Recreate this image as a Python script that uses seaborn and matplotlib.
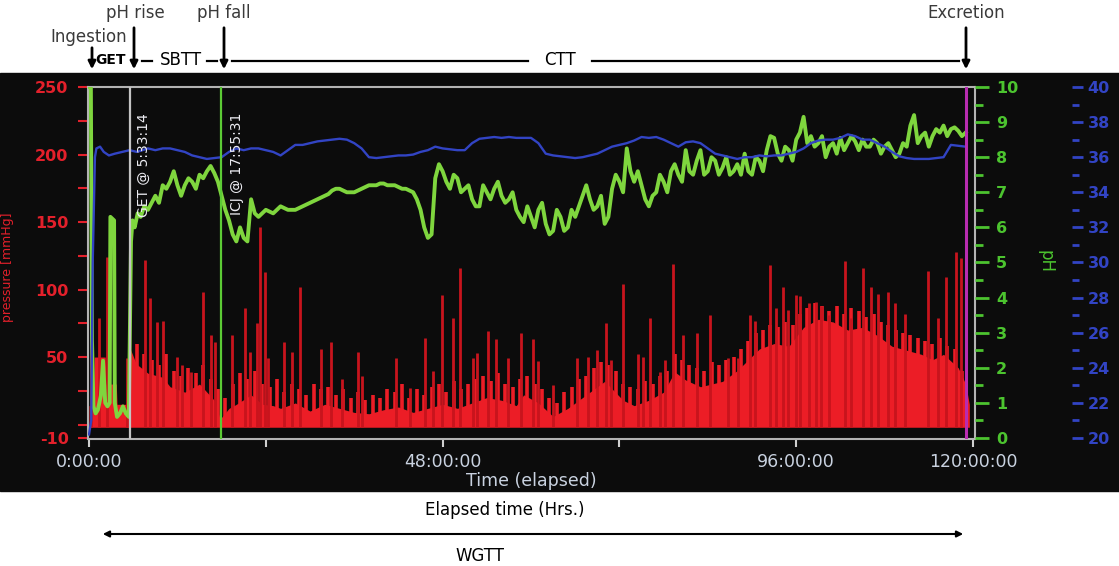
import matplotlib
matplotlib.use("Agg")
import matplotlib.pyplot as plt
import seaborn as sns
from matplotlib.patches import Rectangle, FancyArrowPatch
from matplotlib.lines import Line2D
from matplotlib.ticker import FixedLocator

# ---- data (hours elapsed) ----
# pH, dense part around ingestion / gastric emptying / ICJ
ph_hours_early = [0.0, 0.25, 0.4, 0.6, 0.9, 1.2, 1.6, 1.9, 2.2, 2.5,
                  2.8, 2.9, 3.4, 3.5, 3.8, 4.2, 4.6, 5.0, 5.4, 5.7,
                  5.9, 6.2, 6.6, 7.0, 7.5, 8.0, 8.5, 9.0, 9.5, 10.0,
                  10.5, 11.0, 11.5, 12.0, 12.5, 13.0, 13.5, 14.0, 14.5, 15.0,
                  15.5, 16.0, 16.5, 17.0, 17.5, 18.0, 18.5, 19.0, 19.5, 20.0,
                  20.5, 21.0, 21.5, 22.0, 22.5]
ph_early = [10.0, 10.0, 2.8, 0.9, 0.7, 0.8, 1.2, 2.2, 1.0, 0.9,
            1.0, 6.3, 6.2, 1.0, 0.6, 0.7, 0.9, 0.7, 0.6, 5.6,
            6.2, 6.0, 6.4, 6.3, 6.6, 6.5, 6.7, 6.9, 6.7, 7.2,
            7.1, 7.3, 7.6, 7.2, 6.9, 7.2, 7.4, 7.3, 7.1, 7.5,
            7.4, 7.6, 7.75, 7.55, 7.3, 6.9, 6.5, 6.2, 5.8, 5.6,
            6.0, 5.7, 5.6, 6.8, 6.4]
# pH, hourly from 23 h to 119 h
ph_hours_late = list(range(23, 120))
ph_late = [6.3, 6.5, 6.4, 6.6, 6.5, 6.5, 6.6, 6.7, 6.8, 6.9,
           7.05, 7.1, 7.0, 7.0, 7.1, 7.2, 7.2, 7.25, 7.2, 7.15,
           7.1, 7.0, 6.5, 5.7, 7.4, 7.6, 7.1, 7.4, 7.1, 6.8,
           6.6, 7.0, 7.1, 6.9, 6.8, 6.5, 6.15, 6.3, 6.5, 6.1,
           5.9, 6.3, 6.0, 6.3, 6.9, 6.8, 6.6, 6.1, 7.1, 7.3,
           8.25, 7.3, 7.2, 6.6, 7.0, 7.3, 7.6, 7.5, 8.2, 7.5,
           8.2, 7.6, 7.9, 7.7, 7.5, 7.8, 8.1, 7.5, 7.9, 8.2,
           8.55, 7.9, 8.2, 8.5, 9.15, 8.6, 8.4, 8.0, 8.4, 8.55,
           8.4, 8.45, 8.5, 8.3, 8.4, 8.3, 8.2, 8.1, 8.3, 9.2,
           8.6, 8.3, 8.8, 8.9, 8.8, 8.75, 8.7]
# pH at the half hours in between (the trace is noisy)
ph_hours_half = [h + 0.5 for h in range(23, 119)]
ph_half = [6.4, 6.45, 6.5, 6.55, 6.5, 6.55, 6.65, 6.75, 6.85, 6.95,
           7.1, 7.05, 7.0, 7.05, 7.15, 7.2, 7.25, 7.2, 7.2, 7.1,
           7.05, 6.8, 6.0, 5.8, 7.8, 7.3, 7.5, 7.0, 7.2, 6.6,
           7.2, 6.8, 7.3, 6.7, 7.0, 6.3, 6.6, 6.0, 6.7, 5.8,
           6.5, 5.9, 6.5, 6.6, 7.2, 6.5, 6.9, 6.3, 7.5, 7.0,
           7.6, 7.6, 6.8, 6.9, 7.5, 7.0, 7.8, 7.3, 7.6, 7.9,
           7.5, 8.0, 7.5, 8.0, 7.6, 7.5, 7.6, 8.0, 7.6, 8.6,
           8.1, 8.3, 7.9, 8.7, 8.4, 8.3, 8.6, 8.3, 8.1, 8.2,
           8.6, 8.2, 8.3, 8.5, 8.1, 8.4, 8.0, 8.4, 8.9, 8.4,
           8.7, 8.6, 8.7, 8.6, 8.85, 8.6]

# temperature (deg C)
temp_hours_early = [0, 0.3, 0.5, 0.8, 1.0, 1.5, 2, 2.7, 3.5, 4.5, 5.5, 6.5, 8]
temp_early = [20.2, 21, 30, 36.0, 36.5, 36.6, 36.3, 36.1, 36.2, 36.3, 36.4, 36.3, 36.5]
temp_hours_late = list(range(9, 120))
temp_late = [36.4, 36.5, 36.5, 36.4, 36.3, 36.1, 36.0, 35.9, 35.95, 36.0,
             36.3, 36.5, 36.4, 36.5, 36.5, 36.4, 36.3, 36.1, 36.4, 36.7,
             36.7, 36.8, 36.9, 36.95, 37.0, 37.05, 37.0, 36.8, 36.5, 36.0,
             35.95, 36.0, 36.05, 36.1, 36.1, 36.15, 36.3, 36.4, 36.6, 36.5,
             36.45, 36.4, 36.4, 36.8, 37.05, 37.1, 37.15, 37.1, 37.15, 37.1,
             37.1, 37.1, 36.8, 36.2, 36.1, 36.05, 36.0, 35.95, 36.0, 36.1,
             36.2, 36.4, 36.6, 36.7, 36.8, 36.95, 37.15, 37.1, 37.15, 37.0,
             36.8, 36.6, 36.85, 36.9, 36.8, 36.5, 36.2, 36.1, 36.0, 35.9,
             36.0, 36.0, 36.1, 36.05, 36.1, 36.1, 36.2, 36.3, 36.5, 36.8,
             36.95, 37.0, 37.0, 37.1, 37.3, 37.2, 37.0, 37.0, 36.8, 36.6,
             36.3, 36.05, 35.95, 35.9, 35.9, 35.9, 35.95, 36.0, 36.7, 36.65,
             36.6]

# pressure (mmHg): background level, small contractions and big spikes
base_hours = [0, 0.6, 0.7, 2.2, 2.3, 3.7, 3.8, 5.5, 5.6, 6.4,
              8, 10, 11, 13, 15, 17, 17.8, 19, 20, 22,
              23.5, 25, 26, 28, 30, 32, 34, 36, 38, 40,
              42, 44, 46, 48, 50, 52, 54, 56, 58, 59,
              61, 63, 65, 67, 69, 70, 72.5, 74, 76, 78,
              79.5, 81, 83, 86, 88, 89.5, 91, 93, 95, 97,
              99, 101, 103, 105, 107, 109, 111, 113, 114.5, 116,
              118, 119, 119.5]
base_press = [14, 14, 50, 50, 30, 30, 15, 15, 56, 45,
              38, 35, 28, 24, 30, 18, 4, 12, 15, 22,
              15, 14, 12, 16, 10, 15, 12, 9, 8, 11,
              13, 9, 12, 15, 12, 16, 20, 18, 14, 22,
              16, 6, 12, 20, 28, 32, 18, 14, 18, 24,
              39, 33, 28, 32, 40, 48, 56, 60, 58, 72,
              78, 76, 70, 72, 66, 58, 55, 52, 48, 52,
              42, 30, 15]
minor_hours = [h + 0.5 for h in range(6, 119)]
minor_press = [60, 52, 48, 44, 52, 40, 36, 42, 38, 44,
               34, 26, 20, 30, 38, 34, 40, 30, 28, 34,
               24, 30, 26, 22, 30, 26, 28, 22, 26, 20,
               24, 18, 22, 20, 26, 24, 30, 20, 26, 22,
               28, 30, 24, 32, 26, 30, 34, 36, 32, 38,
               30, 28, 34, 36, 30, 26, 20, 16, 24, 28,
               34, 36, 42, 46, 44, 40, 30, 28, 26, 32,
               30, 36, 40, 52, 48, 44, 42, 40, 46, 44,
               48, 50, 56, 62, 68, 70, 74, 72, 76, 74,
               82, 86, 90, 88, 84, 88, 82, 86, 84, 80,
               82, 76, 74, 70, 68, 66, 64, 62, 60, 64,
               58, 56, 40]
spike_hours = [0.3, 1.3, 2.4, 5.1, 7.6, 8.3, 9.2, 10.1, 11.9, 12.6,
               13.9, 15.5, 16.6, 17.1, 19.4, 21.2, 21.8, 22.8, 23.2, 23.9,
               24.3, 26.4, 27.5, 28.6, 31.5, 32.9, 34.3, 36.5, 37.0, 41.7,
               43.6, 45.6, 46.7, 47.9, 49.4, 50.3, 52.1, 52.6, 54.2, 55.3,
               56.9, 58.7, 60.3, 61.0, 63.0, 66.2, 67.7, 68.9, 70.2, 70.9,
               72.5, 74.5, 75.2, 76.1, 77.5, 78.2, 79.3, 80.6, 82.5, 84.3,
               86.7, 88.1, 89.7, 90.4, 92.4, 93.3, 94.2, 94.9, 96.0, 96.5,
               97.8, 98.7, 99.4, 100.5, 102.6, 103.5, 105.1, 106.2, 107.1, 108.5,
               109.4, 110.7, 113.9, 115.2, 116.4, 117.7, 118.4]
spike_press = [95, 79, 124, 49, 122, 94, 76, 77, 50, 44,
               39, 98, 66, 61, 66, 86, 54, 75, 146, 113,
               49, 61, 54, 102, 56, 61, 34, 54, 36, 49,
               27, 64, 40, 96, 79, 116, 49, 53, 69, 63,
               49, 68, 63, 47, 29, 49, 50, 55, 75, 48,
               104, 52, 50, 79, 39, 48, 119, 66, 68, 81,
               49, 49, 81, 77, 118, 86, 102, 85, 96, 95,
               90, 91, 88, 81, 121, 79, 116, 102, 97, 98,
               90, 82, 114, 79, 109, 128, 123]

# transit markers (hours)
get_time = 5.554    # GET @ 5:33:14
icj_time = 17.925   # ICJ @ 17:55:31
excretion_time = 119.1

x_ticks = [0, 24, 48, 72, 96, 120]
x_labels = ["0:00:00", "", "48:00:00", "", "96:00:00", "120:00:00"]

RED = "#e3202b"
FILL = "#ec1d26"
GREEN = "#4cc42f"
PH_LINE = "#7fd63e"
BLUE = "#3244c4"
BG = "#0c0c0c"

W, H = 1119, 566


def fx(px):
    return px / W


def fy(py):
    return 1 - py / H


fig = plt.figure(figsize=(W / 100, H / 100), dpi=100)
fig.add_artist(Rectangle((0, fy(491)), 1, (491 - 73) / H, transform=fig.transFigure,
                         color=BG, zorder=-10))

ax = fig.add_axes([fx(88), fy(439), fx(975) - fx(88), (439 - 87) / H])
ax.set_facecolor(BG)

# pressure trace
ax.fill_between(base_hours, -2, base_press, color=FILL, lw=0, zorder=2)
ax.vlines(minor_hours, -2, minor_press, color=FILL, lw=2.6, zorder=2)
ax.vlines(spike_hours, -2, spike_press, color="#c8141d", lw=2.0, zorder=3)
ax.set_xlim(-0.14, 120.27)
ax.set_ylim(-10.7, 250)

# pH trace
ax_ph = ax.twinx()
sns.lineplot(x=ph_hours_early + ph_hours_late + ph_hours_half,
             y=ph_early + ph_late + ph_half, ax=ax_ph,
             color=PH_LINE, linewidth=2.8, estimator=None, sort=True)
ax_ph.set_ylim(-0.03, 10)

# temperature trace
ax_t = ax.twinx()
sns.lineplot(x=temp_hours_early + temp_hours_late, y=temp_early + temp_late, ax=ax_t,
             color=BLUE, linewidth=1.7, estimator=None, sort=True)
ax_t.set_ylim(19.94, 40)
ax_t.set_xlim(-0.14, 120.27)

# marker lines
ax_t.axvline(get_time, color="#c4c4c4", lw=1.6)
ax_t.axvline(icj_time, color="#5ccb35", lw=1.6)
ax_t.axvline(excretion_time, color="#b82cb0", lw=2.2)

# frame
for s in ax.spines.values():
    s.set_color("#b4b4b4")
    s.set_linewidth(1.5)
for a in (ax_ph, ax_t):
    for s in a.spines.values():
        s.set_visible(False)
    a.set_ylabel("")
    a.set_xlabel("")
ax_t.spines["right"].set_position(("outward", 70))

# left (pressure) axis
ax.set_yticks([-10, 50, 100, 150, 200, 250], ["-10", "50", "100", "150", "200", "250"],
              fontweight="bold", fontsize=11.5)
ax.yaxis.set_minor_locator(FixedLocator([0, 25, 75, 125, 175, 225]))
ax.tick_params(axis="y", which="both", colors=RED, length=7, width=1.5, pad=7)

# x axis
ax.set_xticks(x_ticks, x_labels, fontsize=12.5)
ax.tick_params(axis="x", colors="#d0d0d0", labelcolor="#c9d2e0", length=6, width=1.5, pad=4)
ax.set_xlabel("Time (elapsed)", fontsize=12.5, color="#c9d2e0", labelpad=1)

# pH axis
ax_ph.set_yticks(range(0, 11), [str(v) for v in range(0, 11)], fontweight="bold", fontsize=11.5)
ax_ph.yaxis.set_minor_locator(FixedLocator([v + 0.5 for v in range(10)]))
ax_ph.tick_params(axis="y", which="major", colors=GREEN, length=10, width=2, pad=5)
ax_ph.tick_params(axis="y", which="minor", colors=GREEN, length=6, width=2)

# temperature axis
ax_t.set_yticks(range(20, 41, 2), [str(v) for v in range(20, 41, 2)], fontweight="bold", fontsize=11.5)
ax_t.yaxis.set_minor_locator(FixedLocator(list(range(21, 40, 2))))
ax_t.tick_params(axis="y", which="major", colors=BLUE, length=8, width=2, pad=3)
ax_t.tick_params(axis="y", which="minor", colors=BLUE, length=5, width=2)

fig.text(fx(8), fy(267), "pressure [mmHg]", rotation=90, ha="center", va="center",
         color=RED, fontsize=9)
fig.text(fx(1046), fy(262), "pH", rotation=270, ha="center", va="center",
         color=GREEN, fontsize=12)

# rotated event labels inside the plot
fig.text(fx(144), fy(165), "GET @ 5:33:14", rotation=90, ha="center", va="center",
         color="#ececf2", fontsize=10, zorder=10)
fig.text(fx(237), fy(164), "ICJ @ 17:55:31", rotation=90, ha="center", va="center",
         color="#ececf2", fontsize=10, zorder=10)

# ---- annotations above the panel ----
TXT = "#3a3a3a"
fig.text(fx(135), fy(13), "pH rise", ha="center", va="center", fontsize=12, color=TXT)
fig.text(fx(224), fy(13), "pH fall", ha="center", va="center", fontsize=12, color=TXT)
fig.text(fx(89), fy(37), "Ingestion", ha="center", va="center", fontsize=12, color=TXT)
fig.text(fx(966), fy(13), "Excretion", ha="center", va="center", fontsize=12, color=TXT)


def down_arrow(x, y0, y1):
    fig.add_artist(FancyArrowPatch((fx(x), fy(y0)), (fx(x), fy(y1)), transform=fig.transFigure,
                                   arrowstyle="-|>", mutation_scale=11, lw=2, color="black"))


def hline(x0, x1, y, lw=1.6):
    fig.add_artist(Line2D([fx(x0), fx(x1)], [fy(y), fy(y)], transform=fig.transFigure,
                          color="black", lw=lw))


down_arrow(92, 45, 72)
down_arrow(134, 25, 72)
down_arrow(224, 25, 72)
down_arrow(966, 25, 72)

fig.text(fx(111), fy(60), "GET", ha="center", va="center", fontsize=10, fontweight="bold", color="black")
hline(142, 152, 61)
fig.text(fx(181), fy(60), "SBTT", ha="center", va="center", fontsize=12, color="black")
hline(207, 217, 61)
hline(232, 528, 61)
fig.text(fx(560), fy(60), "CTT", ha="center", va="center", fontsize=12, color="black")
hline(592, 959, 61)

# ---- below the panel ----
fig.text(fx(505), fy(510), "Elapsed time (Hrs.)", ha="center", va="center", fontsize=12, color="black")
fig.add_artist(FancyArrowPatch((fx(100), fy(534)), (fx(966), fy(534)), transform=fig.transFigure,
                               arrowstyle="<|-|>", mutation_scale=9, lw=1.5, color="black"))
fig.text(fx(480), fy(556), "WGTT", ha="center", va="center", fontsize=12, color="black")

fig.savefig("out.png", dpi=100)
